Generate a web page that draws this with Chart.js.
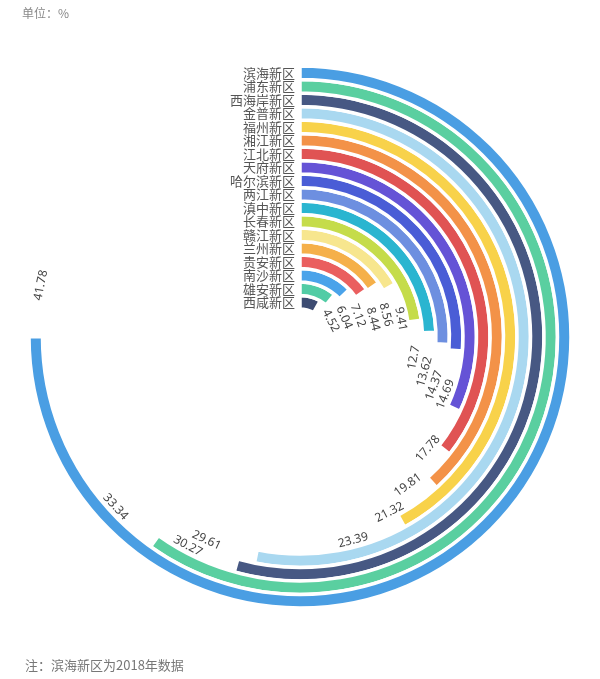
<!DOCTYPE html>
<html>
<head>
<meta charset="utf-8">
<script src="https://cdn.jsdelivr.net/npm/chart.js@4"></script>
<style>
  body { margin: 0; background: #fff; font-family: "Noto Sans CJK SC", "Noto Sans", sans-serif; }
  #wrap { position: relative; width: 600px; height: 679px; }
  #chart { position: absolute; left: 0; top: 0; }
  .unit { position: absolute; left: 22px; top: 4px; font-size: 12px; color: #888; }
  .note { position: absolute; left: 25px; top: 655px; font-size: 13px; color: #777; }
</style>
</head>
<body>
<div id="wrap">
  <canvas id="chart" width="600" height="679"></canvas>
  <div class="unit">单位：%</div>
  <div class="note">注：滨海新区为2018年数据</div>
</div>
<script>
const regions = ['滨海新区', '浦东新区', '西海岸新区', '金普新区', '福州新区', '湘江新区', '江北新区', '天府新区', '哈尔滨新区',
  '两江新区', '滇中新区', '长春新区', '赣江新区', '兰州新区', '贵安新区', '南沙新区', '雄安新区', '西咸新区']
const values = [41.78, 33.34, 30.27, 29.61, 23.39, 21.32, 19.81, 17.78, 14.69, 14.37, 13.62, 12.7, 9.41, 8.56, 8.44, 7.12, 6.04, 4.52]
const colors = ['#4a9ee3', '#5acfa0', '#475883', '#a9d8f0', '#f8d24a', '#f39248', '#e05353', '#6553d6', '#4a5dd6',
  '#6d8fe0', '#2ab5d0', '#c5dc4a', '#f7e68e', '#f5b04a', '#ea5f5f', '#4aa3ea', '#52cca5', '#3d4c72']
const scaleMax = 55.7   // the largest bar fills three quarters of the circle

// one ring per region: the coloured part and an invisible rest
const datasets = values.map((v, i) => ({
  data: [v, scaleMax - v],
  backgroundColor: [colors[i], 'rgba(0,0,0,0)'],
  borderColor: ['#fff', 'rgba(0,0,0,0)'],
  borderWidth: [3.5, 0]
}))

const ringLabels = {
  id: 'ringLabels',
  afterDatasetsDraw(chart) {
    const ctx = chart.ctx
    ctx.save()
    chart.data.datasets.forEach((ds, i) => {
      const arc = chart.getDatasetMeta(i).data[0]
      const p = arc.getProps(['x', 'y', 'endAngle', 'innerRadius', 'outerRadius'])
      const r = (p.innerRadius + p.outerRadius) / 2

      // region name on the left of where the ring starts
      ctx.font = '13px "Noto Sans CJK SC"'
      ctx.fillStyle = '#555'
      ctx.textAlign = 'right'
      ctx.textBaseline = 'middle'
      ctx.fillText(regions[i], p.x - 5, p.y - r)

      // value a bit past the end of the ring, following the circle
      const s = Math.min(52, 19 + (r - 30) * 0.207)
      const a = p.endAngle + Math.PI / 2 + s / r
      const lx = p.x + r * Math.sin(a)
      const ly = p.y - r * Math.cos(a)
      let rot = a
      if (a > Math.PI / 2 && a < Math.PI * 1.5) rot = a - Math.PI
      ctx.save()
      ctx.translate(lx, ly)
      ctx.rotate(rot)
      ctx.font = '12px "Noto Sans"'
      ctx.fillStyle = '#444'
      ctx.textAlign = 'center'
      ctx.fillText(values[i], 0, 0)
      ctx.restore()
    })
    ctx.restore()
  }
}

new Chart('chart', {
  type: 'doughnut',
  data: { labels: ['value', 'rest'], datasets: datasets },
  options: {
    responsive: false,
    animation: false,
    events: [],
    radius: 271,
    cutout: 28,
    layout: { padding: { top: 64, bottom: 69 } },
    plugins: { legend: { display: false }, tooltip: { enabled: false } }
  },
  plugins: [ringLabels]
})
</script>
</body>
</html>
